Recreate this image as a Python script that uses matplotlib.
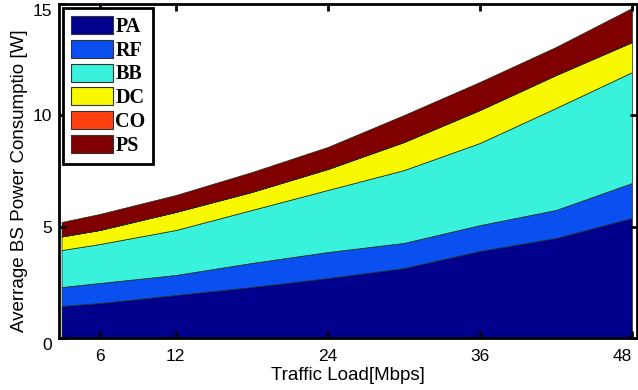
import matplotlib
matplotlib.use("Agg")
import matplotlib.pyplot as plt
from matplotlib.patches import Patch

# Traffic load [Mbps]
traffic = [3, 6, 12, 18, 24, 30, 36, 42, 48]

# Component power consumption [W] (stacked layers)
PA = [1.44, 1.57, 1.93, 2.29, 2.69, 3.14, 3.91, 4.49, 5.39]
RF = [0.85, 0.90, 0.90, 1.08, 1.17, 1.13, 1.16, 1.26, 1.57]
BB = [1.66, 1.75, 2.02, 2.38, 2.79, 3.27, 3.69, 4.58, 4.98]
DC = [0.61, 0.63, 0.81, 0.81, 0.94, 1.26, 1.48, 1.48, 1.35]
CO = [0.00, 0.00, 0.00, 0.00, 0.00, 0.00, 0.00, 0.00, 0.00]
PS = [0.65, 0.72, 0.76, 0.89, 0.99, 1.21, 1.26, 1.26, 1.53]

labels = ["PA", "RF", "BB", "DC", "CO", "PS"]
colors = ["#00008C", "#0A50F0", "#38F2DC", "#F8F800", "#FF4010", "#800000"]

xticks = [6, 12, 24, 36, 48]
yticks = [0, 5, 10, 15]

fig = plt.figure(figsize=(6.38, 3.90), dpi=100)
ax = fig.add_axes([59/638, 52/390, 578/638, 334/390])

ax.stackplot(traffic, PA, RF, BB, DC, CO, PS, colors=colors,
             edgecolor="#1a2a1a", linewidth=0.5)

ax.set_xlim(2.8, 48.4)
ax.set_ylim(0, 15)
ax.set_xticks(xticks)
ax.set_yticks(yticks)
ax.tick_params(direction="in", length=5, width=2, top=True, right=True,
               labelsize=12.5)
ax.tick_params(axis="x", pad=8)
ax.tick_params(axis="y", pad=5)
for lab in ax.get_xticklabels() + ax.get_yticklabels():
    lab.set_family("Liberation Sans")
ylabs = ax.get_yticklabels()
ylabs[0].set_va("top")
ylabs[-1].set_va("top")
ax.get_xticklabels()[-1].set_ha("right")
for s in ax.spines.values():
    s.set_linewidth(2)

ax.set_xlabel("Traffic Load[Mbps]", fontsize=13.5, family="Liberation Sans", labelpad=2)
ax.set_ylabel("Averrage BS Power Consumptio [W]", fontsize=13.5,
              family="Liberation Sans")
ax.yaxis.set_label_coords(-0.054, 0.47)

handles = [Patch(facecolor=c, edgecolor="#333333", linewidth=0.8) for c in colors]
leg = ax.legend(handles, labels, loc="upper left",
                bbox_to_anchor=(0.007, 0.988), borderaxespad=0,
                prop={"family": "Liberation Serif", "weight": "bold", "size": 14.5},
                handlelength=2.1, handleheight=1.0, labelspacing=0.15,
                handletextpad=0.12, borderpad=0.38, fancybox=False,
                framealpha=1, edgecolor="black")
leg.get_frame().set_linewidth(2)

fig.savefig("out.png", dpi=100)
